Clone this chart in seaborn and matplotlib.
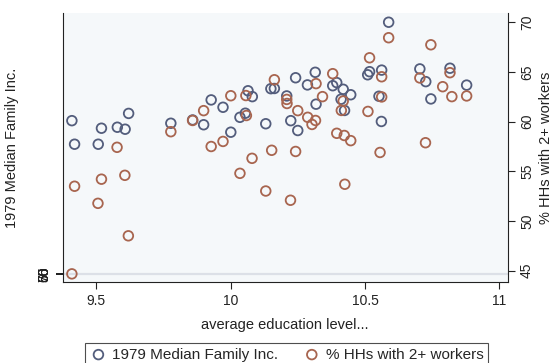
import numpy as np
import pandas as pd
import matplotlib
matplotlib.use("Agg")
import matplotlib.pyplot as plt
import seaborn as sns

# 1979 Median Family Inc. (plotted on the right-hand scale, as in the source)
inc_x = [9.410, 9.420, 9.520, 9.508, 9.579, 9.608, 9.621, 9.778, 9.859, 9.900,
         9.928, 9.972, 10.001, 10.035, 10.055, 10.065, 10.081, 10.131, 10.150, 10.163,
         10.209, 10.224, 10.242, 10.250, 10.286, 10.315, 10.318, 10.380, 10.395, 10.419,
         10.411, 10.424, 10.447, 10.510, 10.517, 10.562, 10.552, 10.561, 10.588, 10.704,
         10.726, 10.745, 10.816, 10.878]
inc_y = [60.09, 57.72, 59.33, 57.72, 59.43, 59.23, 60.82, 59.83, 60.16, 59.68,
         62.18, 61.44, 58.93, 60.43, 60.84, 63.10, 62.51, 59.78, 63.31, 63.33,
         62.58, 60.09, 64.41, 59.10, 63.69, 64.96, 61.75, 63.61, 63.92, 63.25,
         62.25, 61.12, 62.70, 64.71, 65.02, 65.18, 62.55, 60.01, 70.00, 65.30,
         64.02, 62.28, 65.37, 63.67]

# % HHs with 2+ workers
wrk_x = [9.410, 9.420, 9.520, 9.507, 9.578, 9.607, 9.620, 9.778, 9.859, 9.900,
         9.928, 9.972, 10.001, 10.035, 10.059, 10.057, 10.080, 10.131, 10.153, 10.163,
         10.209, 10.210, 10.223, 10.242, 10.250, 10.287, 10.303, 10.316, 10.318, 10.342,
         10.380, 10.395, 10.419, 10.412, 10.423, 10.447, 10.425, 10.517, 10.562, 10.562,
         10.511, 10.556, 10.588, 10.704, 10.745, 10.789, 10.816, 10.823, 10.878, 10.725]
wrk_y = [44.67, 53.49, 54.20, 51.77, 57.41, 54.59, 48.50, 58.98, 60.11, 61.10,
         57.49, 58.00, 62.60, 54.79, 60.61, 62.62, 56.30, 53.01, 57.11, 64.21,
         62.23, 61.82, 52.08, 56.99, 61.10, 60.43, 59.71, 60.11, 63.82, 62.51,
         64.82, 58.82, 62.07, 61.12, 58.60, 58.08, 53.69, 66.42, 64.51, 62.48,
         61.02, 56.89, 68.44, 64.39, 67.73, 63.51, 64.92, 62.51, 62.58, 57.87]

right_ticks = [45, 50, 55, 60, 65, 70]
# the left axis labels all collapse onto one spot in the source
left_tick_labels = ["55", "60", "65", "70", "50"]
left_tick_pos = 44.67

blue = "#535d7c"
brown = "#a8654f"

df_inc = pd.DataFrame({"edu": inc_x, "val": inc_y})
df_wrk = pd.DataFrame({"edu": wrk_x, "val": wrk_y})

sns.set_style("ticks")
plt.rcParams["font.family"] = ["Liberation Sans", "DejaVu Sans"]

fig = plt.figure(figsize=(5.57, 3.63), dpi=100)
ax = fig.add_axes([0.1136, 0.2223, 0.7990, 0.7411])
ax.set_facecolor("#f5f8fa")

ax.axhline(left_tick_pos, color="#dce0e7", lw=1.6, zorder=1)

sns.scatterplot(data=df_inc, x="edu", y="val", ax=ax, s=48, marker="o",
                facecolors="none", edgecolor=blue, linewidth=1.3,
                label="1979 Median Family Inc.", zorder=3)
sns.scatterplot(data=df_wrk, x="edu", y="val", ax=ax, s=48, marker="o",
                facecolors="none", edgecolor=brown, linewidth=1.3,
                label="% HHs with 2+ workers", zorder=4)

ax.set_xlim(9.378, 11.033)
ax.set_ylim(43.82, 70.9)
ax.set_xticks([9.5, 10, 10.5, 11], labels=["9.5", "10", "10.5", "11"])
left_pos = [left_tick_pos + 0.001 * i for i in range(len(left_tick_labels))]
ax.set_yticks(left_pos, labels=left_tick_labels)
ax.tick_params(axis="y", labelrotation=90, labelsize=10, length=5, width=1.2,
               colors="#222222")
for t in ax.get_yticklabels():
    t.set_va("center")
ax.tick_params(axis="x", labelsize=10, length=5, width=0.8, colors="#222222")

ax.set_xlabel("average education level...", fontsize=10.5, color="#222222")
ax.xaxis.set_label_coords(0.498, -0.133)
ax.set_ylabel("1979 Median Family Inc.", fontsize=10.5, color="#222222")
ax.yaxis.set_label_coords(-0.0996, 0.5)

ax.spines["top"].set_visible(False)
ax.spines["right"].set_visible(False)
ax.spines["left"].set_color("#222222")
ax.spines["bottom"].set_color("#222222")

ax2 = ax.twinx()
ax2.set_ylim(ax.get_ylim())
ax2.set_yticks(right_ticks, labels=[str(v) for v in right_ticks])
ax2.tick_params(axis="y", labelrotation=90, labelsize=10, length=5, width=0.8,
                colors="#222222")
for t in ax2.get_yticklabels():
    t.set_va("center")
ax2.set_ylabel("% HHs with 2+ workers", fontsize=10.5, color="#222222")
ax2.yaxis.set_label_coords(1.068, 0.5)
ax2.spines["top"].set_visible(False)
ax2.spines["left"].set_visible(False)
ax2.spines["bottom"].set_visible(False)
ax2.spines["right"].set_color("#222222")

handles, labels = ax.get_legend_handles_labels()
ax.get_legend().remove()
leg = fig.legend(handles, labels, loc="upper center", bbox_to_anchor=(0.514, 0.055),
                 ncol=2, frameon=True, fancybox=False, fontsize=11,
                 handletextpad=0.3, columnspacing=1.6, borderpad=0.3,
                 borderaxespad=0, handlelength=1.2)
leg.get_frame().set_edgecolor("#222222")
leg.get_frame().set_linewidth(0.8)

fig.savefig("out.png", dpi=100)
